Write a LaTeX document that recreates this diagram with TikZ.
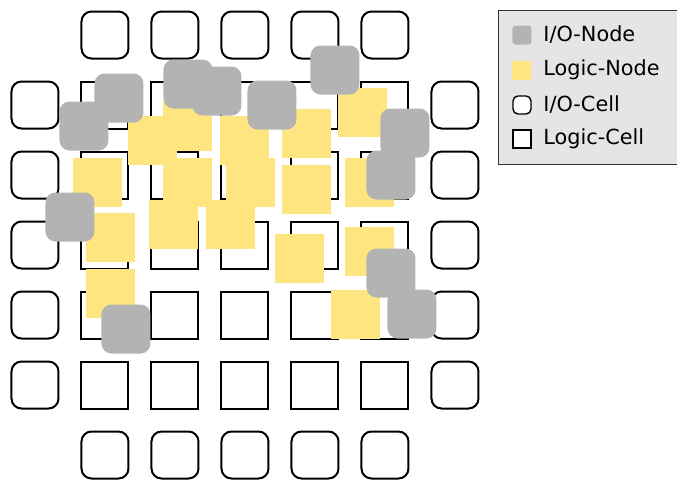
\documentclass[tikz,border=0pt]{standalone}
\usepackage{fontspec}
\setmainfont{DejaVu Sans}
\begin{document}
\begin{tikzpicture}[x=0.5pt,y=-0.5pt,
  iocell/.style={draw,line width=1pt,rounded corners=5pt,minimum size=23.5pt,inner sep=0pt},
  lcell/.style={draw,line width=1pt,minimum size=23.5pt,inner sep=0pt},
  lnode/.style={fill=logicyellow,minimum size=24.5pt,inner sep=0pt},
  ionode/.style={fill=iogray,rounded corners=5pt,minimum size=24.5pt,inner sep=0pt},
  legtext/.style={anchor=west,inner sep=0pt,font=\fontsize{10.4}{12}\selectfont}]
\definecolor{logicyellow}{HTML}{FFE57F}
\definecolor{iogray}{HTML}{B3B3B3}
\useasboundingbox (0,0) rectangle (677,479);
% cell grid
\foreach \i in {1,...,5} {
  \node[iocell] (io-top-\i) at (35+70*\i,35) {};
  \node[iocell] (io-bot-\i) at (35+70*\i,455) {};
  \node[iocell] (io-left-\i) at (35,35+70*\i) {};
  \node[iocell] (io-right-\i) at (455,35+70*\i) {};
  \foreach \j in {1,...,5}
    \node[lcell] (cell-\i-\j) at (35+70*\i,35+70*\j) {};
}
% logic nodes
\foreach \name/\x/\y in {la/153/140,lb/188/126,lc/245/140,ld/98/182,le/188/182,
    lf/174/224,lg/231/224,lh/111/237,li/251/182,lj/307/133,lk/307/189,
    ll/363/112,lm/370/182,ln/300/258,lo/370/251,lp/356/314,lq/111/293}
  \node[lnode] (\name) at (\x,\y) {};
% i/o nodes
\foreach \name/\x/\y in {ga/119/98,gb/84/126,gc/188/84,gd/217/91,ge/70/217,
    gf/272/105,gg/335/70,gh/405/133,gi/391/175,gj/126/329,gk/391/273,gl/412/314}
  \node[ionode] (\name) at (\x,\y) {};
% legend
\node[draw=black!80,line width=0.6pt,fill=black!10,anchor=north west,
  minimum width=95pt,minimum height=77pt,inner sep=0pt] (legend) at (498,10) {};
\node[fill=iogray,rounded corners=1.5pt,minimum size=9.5pt,inner sep=0pt] (key-ionode) at (522,35) {};
\node[fill=logicyellow,minimum size=9.5pt,inner sep=0pt] (key-lnode) at (522,70) {};
\node[draw,fill=white,line width=0.7pt,rounded corners=2.5pt,minimum size=9pt,inner sep=0pt] (key-iocell) at (522,105) {};
\node[draw,fill=white,line width=0.7pt,minimum size=9pt,inner sep=0pt] (key-lcell) at (522,139) {};
\node[legtext] at (543,35) {I/O-Node};
\node[legtext] at (543,70) {Logic-Node};
\node[legtext] at (543,105) {I/O-Cell};
\node[legtext] at (543,139) {Logic-Cell};
\end{tikzpicture}
\end{document}
